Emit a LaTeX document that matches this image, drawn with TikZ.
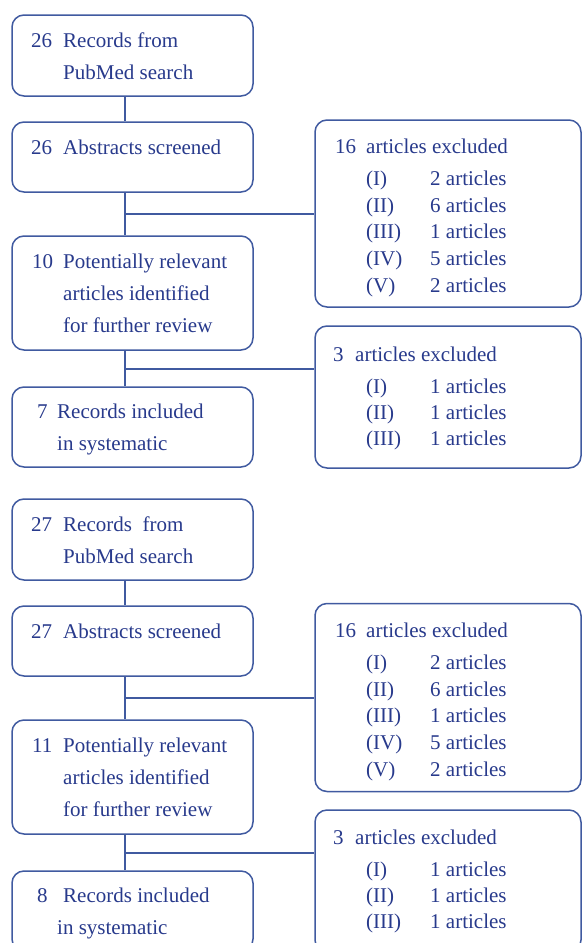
\documentclass[tikz,border=0pt]{standalone}
\usepackage{fontspec}
\setmainfont{Liberation Serif}
\definecolor{ink}{RGB}{40,58,140}
\definecolor{edge}{RGB}{64,90,160}
\tikzset{
  box/.style={draw=edge, line width=1.5pt, rounded corners=12pt, inner sep=0pt},
  leftbox/.style={box, minimum width=241pt},
  rightbox/.style={box, minimum width=266pt},
  link/.style={draw=edge, line width=1.8pt},
  lbl/.style={anchor=base west, inner sep=0pt, text=ink, font=\fontsize{21}{25}\selectfont},
}
\begin{document}
\begin{tikzpicture}[x=1pt,y=-1pt]
\useasboundingbox (0,0) rectangle (582,943);
\clip (0,0) rectangle (582,943);
\fill[white] (0,0) rectangle (582,943);

% ---------- first flow ----------
\node[leftbox, minimum height=81pt]  (a1) at (132.5,55.5) {};
\node[leftbox, minimum height=70pt]  (a2) at (132.5,157) {};
\node[leftbox, minimum height=114pt] (a3) at (132.5,293) {};
\node[leftbox, minimum height=80pt]  (a4) at (132.5,427) {};
\node[rightbox, minimum height=187pt] (r1) at (448,213.5) {};
\node[rightbox, minimum height=142pt] (r2) at (448,397) {};

\coordinate (ta) at (125,0);
\coordinate (j1) at (125,214);
\coordinate (j2) at (125,369);
\draw[link] (a1.south -| ta) -- (a2.north -| ta);
\draw[link] (a2.south -| ta) -- (a3.north -| ta);
\draw[link] (a3.south -| ta) -- (a4.north -| ta);
\draw[link] (j1) -- (j1 -| r1.west);
\draw[link] (j2) -- (j2 -| r2.west);

\node[lbl] (a1n) at (31,47) {26};
\node[lbl] (a1t) at (63,47) {Records from};
\node[lbl] (a1u) at (63,79) {PubMed search};
\node[lbl] (a2n) at (31,154) {26};
\node[lbl] (a2t) at (63,154) {Abstracts screened};
\node[lbl] (a3n) at (32,268) {10};
\node[lbl] (a3t) at (63,268) {Potentially relevant};
\node[lbl] (a3u) at (63,300) {articles identified};
\node[lbl] (a3v) at (63,332) {for further review};
\node[lbl] (a4n) at (37,418) {7};
\node[lbl] (a4t) at (57,418) {Records included};
\node[lbl] (a4u) at (57,450) {in systematic};

\node[lbl] (r1n) at (335,153) {16};
\node[lbl] (r1t) at (366,153) {articles excluded};
\node[lbl] (r1a) at (366,185) {(I)};   \node[lbl] (r1b) at (430,185) {2 articles};
\node[lbl] (r1c) at (366,212) {(II)};  \node[lbl] (r1d) at (430,212) {6 articles};
\node[lbl] (r1e) at (366,238) {(III)}; \node[lbl] (r1f) at (430,238) {1 articles};
\node[lbl] (r1g) at (366,265) {(IV)};  \node[lbl] (r1h) at (430,265) {5 articles};
\node[lbl] (r1i) at (366,292) {(V)};   \node[lbl] (r1j) at (430,292) {2 articles};

\node[lbl] (r2n) at (333,361) {3};
\node[lbl] (r2t) at (355,361) {articles excluded};
\node[lbl] (r2a) at (366,393) {(I)};   \node[lbl] (r2b) at (430,393) {1 articles};
\node[lbl] (r2c) at (366,419) {(II)};  \node[lbl] (r2d) at (430,419) {1 articles};
\node[lbl] (r2e) at (366,445) {(III)}; \node[lbl] (r2f) at (430,445) {1 articles};

% ---------- second flow ----------
\node[leftbox, minimum height=81pt]  (b1) at (132.5,539.5) {};
\node[leftbox, minimum height=70pt]  (b2) at (132.5,641) {};
\node[leftbox, minimum height=114pt] (b3) at (132.5,777) {};
\node[leftbox, minimum height=80pt]  (b4) at (132.5,911) {};
\node[rightbox, minimum height=188pt] (s1) at (448,697.5) {};
\node[rightbox, minimum height=142pt] (s2) at (448,881) {};

\coordinate (j3) at (125,698);
\coordinate (j4) at (125,853);
\draw[link] (b1.south -| ta) -- (b2.north -| ta);
\draw[link] (b2.south -| ta) -- (b3.north -| ta);
\draw[link] (b3.south -| ta) -- (b4.north -| ta);
\draw[link] (j3) -- (j3 -| s1.west);
\draw[link] (j4) -- (j4 -| s2.west);

\node[lbl] (b1n) at (31,531) {27};
\node[lbl] (b1t) at (63,531) {Records\ \ from};
\node[lbl] (b1u) at (63,563) {PubMed search};
\node[lbl] (b2n) at (31,638) {27};
\node[lbl] (b2t) at (63,638) {Abstracts screened};
\node[lbl] (b3n) at (32,752) {11};
\node[lbl] (b3t) at (63,752) {Potentially relevant};
\node[lbl] (b3u) at (63,784) {articles identified};
\node[lbl] (b3v) at (63,816) {for further review};
\node[lbl] (b4n) at (37,902) {8};
\node[lbl] (b4t) at (63,902) {Records included};
\node[lbl] (b4u) at (57,934) {in systematic};

\node[lbl] (s1n) at (335,637) {16};
\node[lbl] (s1t) at (366,637) {articles excluded};
\node[lbl] (s1a) at (366,669) {(I)};   \node[lbl] (s1b) at (430,669) {2 articles};
\node[lbl] (s1c) at (366,696) {(II)};  \node[lbl] (s1d) at (430,696) {6 articles};
\node[lbl] (s1e) at (366,722) {(III)}; \node[lbl] (s1f) at (430,722) {1 articles};
\node[lbl] (s1g) at (366,749) {(IV)};  \node[lbl] (s1h) at (430,749) {5 articles};
\node[lbl] (s1i) at (366,776) {(V)};   \node[lbl] (s1j) at (430,776) {2 articles};

\node[lbl] (s2n) at (333,844) {3};
\node[lbl] (s2t) at (355,844) {articles excluded};
\node[lbl] (s2a) at (366,876) {(I)};   \node[lbl] (s2b) at (430,876) {1 articles};
\node[lbl] (s2c) at (366,902) {(II)};  \node[lbl] (s2d) at (430,902) {1 articles};
\node[lbl] (s2e) at (366,928) {(III)}; \node[lbl] (s2f) at (430,928) {1 articles};
\end{tikzpicture}
\end{document}
